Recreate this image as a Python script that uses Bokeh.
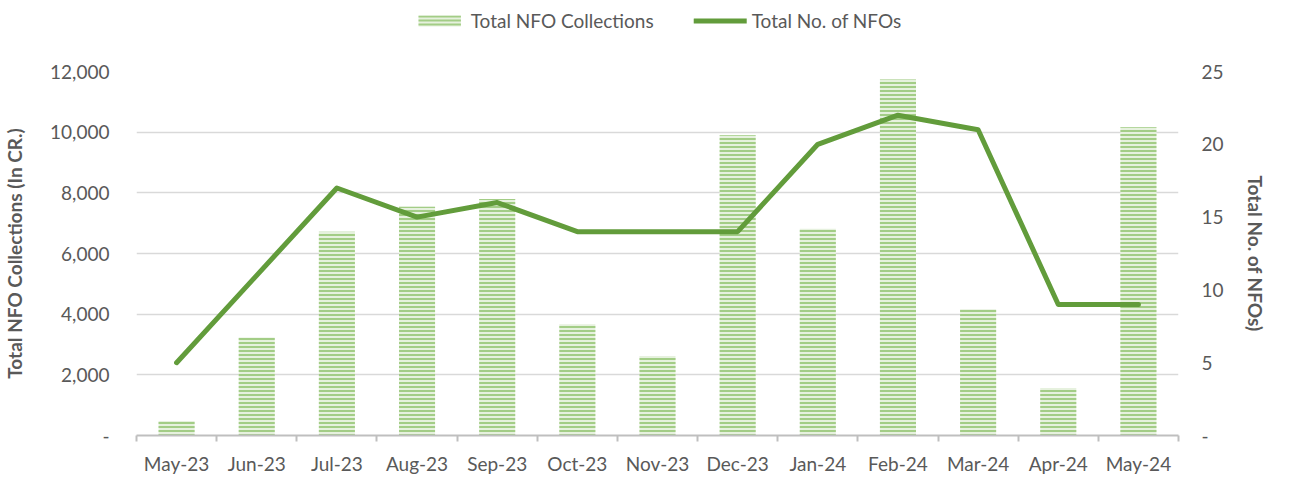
from bokeh.plotting import figure
from bokeh.layouts import column
from bokeh.models import (Range1d, LinearAxis, FixedTicker, NumeralTickFormatter,
                          Legend, LegendItem, ColumnDataSource)
from bokeh.embed import file_html
from bokeh.resources import INLINE
import numpy as np

months = ["May-23", "Jun-23", "Jul-23", "Aug-23", "Sep-23", "Oct-23", "Nov-23",
          "Dec-23", "Jan-24", "Feb-24", "Mar-24", "Apr-24", "May-24"]
collections = [480, 3230, 6720, 7540, 7800, 3670, 2620, 9900, 6820, 11740, 4160, 1570, 10160]
nfo_count = [5, 11, 17, 15, 16, 14, 14, 14, 20, 22, 21, 9, 9]
left_ticks = [0, 2000, 4000, 6000, 8000, 10000, 12000]
right_ticks = [0, 5, 10, 15, 20, 25]
series_names = ["Total NFO Collections", "Total No. of NFOs"]

FONT = "Lato"
GRAY = "#595959"
GREEN = "#629c3b"
BAR_STYLE = dict(fill_color="#e6f1de", line_color=None, hatch_pattern="-",
                 hatch_color="#a3cd86", hatch_scale=4, hatch_weight=2)
LINE_STYLE = dict(line_color=GREEN, line_width=5, line_cap="round", line_join="round")

x = np.arange(len(months)) + 0.5
src = ColumnDataSource(dict(x=x, month=months, coll=collections, nfo=nfo_count))

# ---------- main chart ----------
p = figure(width=1277, height=437, output_backend="svg", toolbar_location=None,
           x_range=Range1d(0, len(months)), y_range=Range1d(0, 12000),
           min_border_left=132, min_border_right=99, min_border_top=31, min_border_bottom=40)
p.outline_line_color = None
p.background_fill_color = "white"
p.border_fill_color = "white"
p.extra_y_ranges = {"nfo": Range1d(0, 25)}

p.vbar(x="x", top="coll", width=0.45, source=src, **BAR_STYLE)
p.line(x="x", y="nfo", source=src, y_range_name="nfo", **LINE_STYLE)

xa = p.xaxis[0]
xa.ticker = FixedTicker(ticks=list(x), minor_ticks=list(range(len(months) + 1)))
xa.major_label_overrides = {float(v): m for v, m in zip(x, months)}
xa.major_tick_line_color = None
xa.major_tick_out = 0
xa.major_tick_in = 0
xa.minor_tick_line_color = "#bfbfbf"
xa.minor_tick_line_width = 2
xa.minor_tick_in = 0
xa.minor_tick_out = 6
xa.axis_line_color = "#bfbfbf"
xa.axis_line_width = 2
xa.major_label_standoff = 10
xa.major_label_text_font = FONT
xa.major_label_text_font_size = "19px"
xa.major_label_text_color = GRAY


def style_y(ax, title, tick_standoff, label_standoff):
    ax.major_label_overrides = {0: "-"}
    ax.axis_line_color = None
    ax.major_tick_line_color = None
    ax.minor_tick_line_color = None
    ax.major_tick_out = 0
    ax.major_tick_in = 0
    ax.minor_tick_out = 0
    ax.minor_tick_in = 0
    ax.major_label_standoff = tick_standoff
    ax.major_label_text_font = FONT
    ax.major_label_text_font_size = "19px"
    ax.major_label_text_color = GRAY
    ax.axis_label = title
    ax.axis_label_text_font = FONT
    ax.axis_label_text_font_size = "19px"
    ax.axis_label_text_font_style = "bold"
    ax.axis_label_text_color = GRAY
    ax.axis_label_standoff = label_standoff


ya = p.yaxis[0]
ya.ticker = FixedTicker(ticks=left_ticks)
ya.formatter = NumeralTickFormatter(format="0,0")
style_y(ya, "Total NFO Collections (In CR.)", 27, 21)

ra = LinearAxis(y_range_name="nfo", ticker=FixedTicker(ticks=right_ticks))
style_y(ra, "Total No. of NFOs)", 23, 17)
p.add_layout(ra, "right")

p.xgrid.grid_line_color = None
p.ygrid.ticker = FixedTicker(ticks=left_ticks)
p.ygrid.grid_line_color = "#d9d9d9"
p.ygrid.grid_line_width = 1.5

# ---------- legend strip on top ----------
lg = figure(width=1277, height=40, output_backend="svg", toolbar_location=None,
            x_range=Range1d(0, 1), y_range=Range1d(0, 1),
            x_axis_type=None, y_axis_type=None,
            min_border_left=0, min_border_right=0, min_border_top=0, min_border_bottom=0)
lg.outline_line_color = None
lg.grid.visible = False
# one off-range row so the legend swatches have an index to draw from
swatch = ColumnDataSource(dict(x=[-10], y=[-10], top=[-10]))
r_bar = lg.vbar(x="x", top="top", width=0.1, source=swatch, **BAR_STYLE)
r_line = lg.line(x="x", y="y", source=swatch, **LINE_STYLE)

legend = Legend(items=[LegendItem(label=series_names[0], renderers=[r_bar]),
                       LegendItem(label=series_names[1], renderers=[r_line])],
                orientation="horizontal", location="center",
                glyph_width=53, glyph_height=14, label_standoff=5, spacing=40,
                padding=0, margin=0, border_line_color=None, background_fill_alpha=0,
                label_text_font=FONT, label_text_font_size="19px", label_text_color=GRAY)
lg.add_layout(legend, "center")

layout = column(lg, p, spacing=0)
open("out.html", "w").write(file_html(layout, INLINE))
